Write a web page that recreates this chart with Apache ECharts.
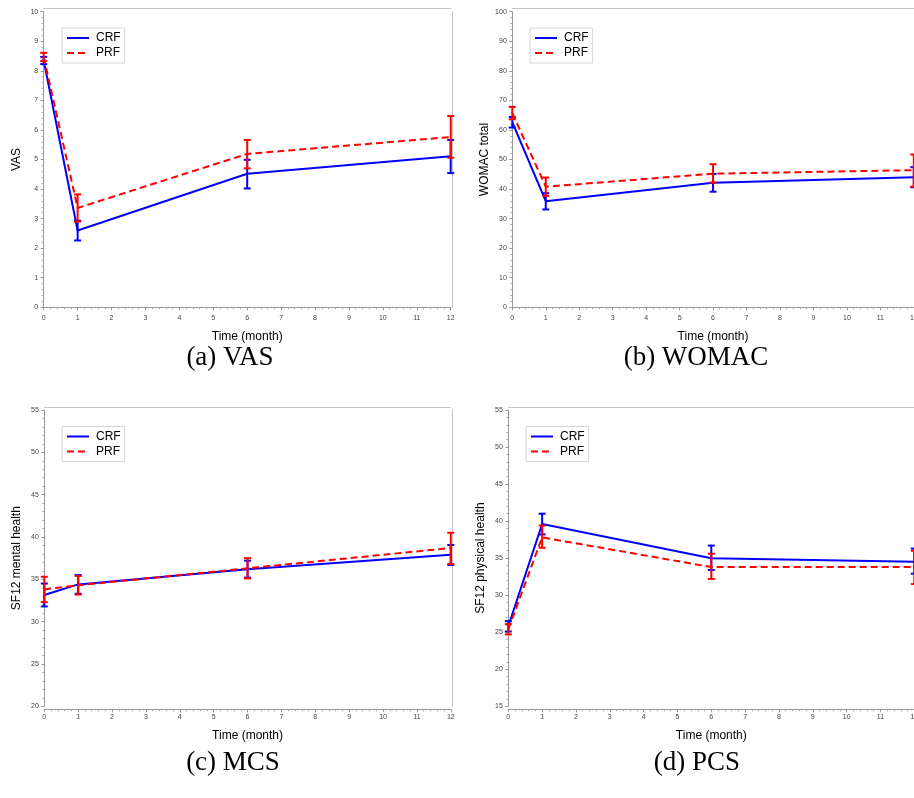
<!DOCTYPE html>
<html>
<head>
<meta charset="utf-8">
<script src="https://cdn.jsdelivr.net/npm/echarts@6/dist/echarts.min.js"></script>
<style>
  html, body { margin: 0; padding: 0; background: #fff; }
  #main { width: 914px; height: 798px; }
</style>
</head>
<body>
<div id="main"></div>
<script>
// ---------------- data ----------------
var months = [0, 1, 6, 12];

var vasCRF   = [8.35, 2.6, 4.52, 5.11];
var vasCRFLo = [8.23, 2.26, 4.02, 4.54];
var vasCRFHi = [8.47, 2.93, 4.99, 5.66];
var vasPRF   = [8.47, 3.36, 5.19, 5.76];
var vasPRFLo = [8.33, 2.9, 4.7, 5.06];
var vasPRFHi = [8.61, 3.82, 5.66, 6.47];

var womacCRF   = [62.6, 35.9, 42.1, 44.0];
var womacCRFLo = [60.8, 33.1, 39.1, 40.6];
var womacCRFHi = [64.4, 38.6, 45.1, 47.4];
var womacPRF   = [65.7, 40.8, 45.2, 46.4];
var womacPRFLo = [63.6, 37.7, 42.2, 40.8];
var womacPRFHi = [67.8, 43.9, 48.4, 51.7];

var mcsCRF   = [33.15, 34.4, 36.2, 37.9];
var mcsCRFLo = [31.8, 33.3, 35.2, 36.7];
var mcsCRFHi = [34.5, 35.5, 37.2, 39.05];
var mcsPRF   = [33.8, 34.3, 36.3, 38.7];
var mcsPRFLo = [32.3, 33.2, 35.1, 36.8];
var mcsPRFHi = [35.3, 35.4, 37.5, 40.5];

var pcsCRF   = [25.8, 39.6, 35.0, 34.5];
var pcsCRFLo = [25.1, 38.2, 33.4, 32.9];
var pcsCRFHi = [26.5, 41.0, 36.7, 36.3];
var pcsPRF   = [25.4, 37.8, 33.8, 33.8];
var pcsPRFLo = [24.7, 36.4, 32.2, 31.5];
var pcsPRFHi = [26.1, 39.4, 35.6, 36.0];

var yTitles  = ['VAS', 'WOMAC total', 'SF12 mental health', 'SF12 physical health'];
var captions = ['(a) VAS', '(b) WOMAC', '(c) MCS', '(d) PCS'];
var yMin = [0, 0, 20, 15];
var yMax = [10, 100, 55, 55];
var yStep = [1, 10, 5, 5];

var panels = [
    [vasCRF, vasCRFLo, vasCRFHi, vasPRF, vasPRFLo, vasPRFHi],
    [womacCRF, womacCRFLo, womacCRFHi, womacPRF, womacPRFLo, womacPRFHi],
    [mcsCRF, mcsCRFLo, mcsCRFHi, mcsPRF, mcsPRFLo, mcsPRFHi],
    [pcsCRF, pcsCRFLo, pcsCRFHi, pcsPRF, pcsPRFLo, pcsPRFHi]
];

// ---------------- layout ----------------
var FONT = 'Liberation Sans, Arial, sans-serif';
var BLUE = '#0000ff', RED = '#ff0000';

var grids = [
    {left: 43.7, top: 11.7, width: 407, height: 295.6, outerBoundsMode: 'none'},
    {left: 512.3, top: 11.7, width: 401.5, height: 295.6, outerBoundsMode: 'none'},
    {left: 44.3, top: 410, width: 406.5, height: 296.3, outerBoundsMode: 'none'},
    {left: 508.3, top: 410, width: 406, height: 296.3, outerBoundsMode: 'none'}
];
var legendPos = [[62, 28], [530, 28], [62, 426.5], [526, 426.5]];
var capPos = [[230, 358], [696, 358], [233, 763], [697, 763]];

var chart = echarts.init(document.getElementById('main'));

var xAxes = [], yAxes = [], series = [], legends = [], graphics = [];

function pairs(xs, ys) {
    return xs.map(function (x, i) { return [x, ys[i]]; });
}
function bars(xs, lo, hi) {
    return xs.map(function (x, i) { return [x, lo[i], hi[i]]; });
}

function errorBar(color) {
    return function (params, api) {
        var x = api.value(0);
        var p1 = api.coord([x, api.value(1)]);
        var p2 = api.coord([x, api.value(2)]);
        var w = 3.5;
        var st = {stroke: color, lineWidth: 2};
        return {
            type: 'group',
            children: [
                {type: 'line', shape: {x1: p1[0], y1: p1[1], x2: p2[0], y2: p2[1]}, style: st},
                {type: 'line', shape: {x1: p1[0] - w, y1: p1[1], x2: p1[0] + w, y2: p1[1]}, style: st},
                {type: 'line', shape: {x1: p2[0] - w, y1: p2[1], x2: p2[0] + w, y2: p2[1]}, style: st}
            ]
        };
    };
}

for (var i = 0; i < 4; i++) {
    var d = panels[i];
    // main axes
    xAxes.push({
        gridIndex: i, type: 'value', min: 0, max: 12, interval: 1, offset: 3,
        name: 'Time (month)', nameLocation: 'middle', nameGap: 20,
        nameTextStyle: {fontFamily: FONT, fontSize: 12, color: '#000'},
        axisLine: {show: true, lineStyle: {color: '#999', width: 1}},
        axisTick: {show: true, length: 3, lineStyle: {color: '#999'}},
        minorTick: {show: true, splitNumber: 5, length: 2, lineStyle: {color: '#aaa'}},
        axisLabel: {fontFamily: FONT, fontSize: 7, color: '#444', margin: 4, hideOverlap: false},
        splitLine: {show: false}
    });
    yAxes.push({
        gridIndex: i, type: 'value', min: yMin[i], max: yMax[i], interval: yStep[i], offset: 1.5,
        name: yTitles[i], nameLocation: 'middle', nameGap: 20, nameRotate: 90,
        nameTextStyle: {fontFamily: FONT, fontSize: 12, color: '#000'},
        axisLine: {show: true, lineStyle: {color: '#999', width: 1}},
        axisTick: {show: true, length: 3, lineStyle: {color: '#999'}},
        minorTick: {show: true, splitNumber: 5, length: 2, lineStyle: {color: '#aaa'}},
        axisLabel: {fontFamily: FONT, fontSize: 7, color: '#444', margin: 4},
        splitLine: {show: false}
    });
    // frame (top / right)
    xAxes.push({
        gridIndex: i, type: 'value', position: 'top', min: 0, max: 12, offset: 3,
        axisLine: {show: true, onZero: false, lineStyle: {color: '#c4c4c4', width: 1}},
        axisTick: {show: false}, axisLabel: {show: false}, splitLine: {show: false}
    });
    yAxes.push({
        gridIndex: i, type: 'value', position: 'right', min: yMin[i], max: yMax[i], offset: 1.5,
        axisLine: {show: true, onZero: false, lineStyle: {color: '#c4c4c4', width: 1}},
        axisTick: {show: false}, axisLabel: {show: false}, splitLine: {show: false}
    });
    var xi = i * 2, yi = i * 2;

    series.push({
        type: 'custom', name: 'CRF bars', xAxisIndex: xi, yAxisIndex: yi, z: 2,
        renderItem: errorBar(BLUE), data: bars(months, d[1], d[2])
    });
    series.push({
        type: 'line', name: 'CRF', xAxisIndex: xi, yAxisIndex: yi, z: 3,
        symbol: 'none', color: BLUE,
        lineStyle: {color: BLUE, width: 2}, data: pairs(months, d[0])
    });
    series.push({
        type: 'custom', name: 'PRF bars', xAxisIndex: xi, yAxisIndex: yi, z: 4,
        renderItem: errorBar(RED), data: bars(months, d[4], d[5])
    });
    series.push({
        type: 'line', name: 'PRF', xAxisIndex: xi, yAxisIndex: yi, z: 5,
        symbol: 'none', color: RED,
        lineStyle: {color: RED, width: 2, type: [7, 4]}, data: pairs(months, d[3])
    });

    legends.push({
        data: ['CRF', 'PRF'], orient: 'vertical',
        left: legendPos[i][0], top: legendPos[i][1],
        backgroundColor: '#fff', borderColor: '#d6d6d6', borderWidth: 1,
        padding: [4, 4, 4, 4], itemGap: 3, itemWidth: 22, itemHeight: 12,
        selectedMode: false,
        itemStyle: {opacity: 0},
        textStyle: {fontFamily: FONT, fontSize: 12, color: '#000', padding: [0, 0, 0, 2]}
    });

    graphics.push({
        type: 'text', x: capPos[i][0], y: capPos[i][1],
        style: {
            text: captions[i], fill: '#000',
            font: '27px "Liberation Serif", "DejaVu Serif", serif',
            textAlign: 'center', textVerticalAlign: 'middle'
        }
    });
}

var option = {
    animation: false,
    backgroundColor: '#fff',
    grid: grids,
    xAxis: xAxes,
    yAxis: yAxes,
    legend: legends,
    series: series,
    graphic: graphics
};

option && chart.setOption(option);
</script>
</body>
</html>
